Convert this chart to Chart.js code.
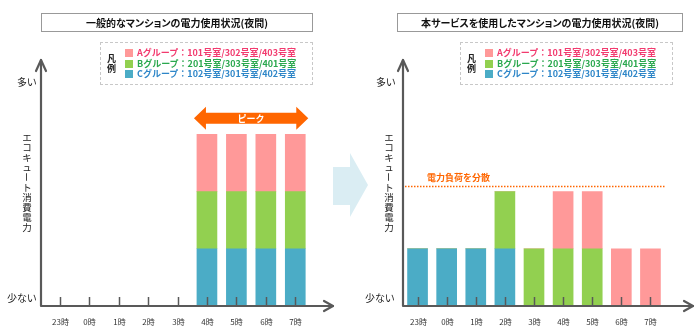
<!DOCTYPE html>
<html lang="ja">
<head>
    <meta charset="UTF-8">
    <title>エコキュート消費電力</title>
    <script src="https://cdn.jsdelivr.net/npm/chart.js"></script>
    <style>
        body { margin: 0; background: #fff; font-family: "Noto Sans CJK JP", sans-serif; }
        #wrap { position: relative; width: 700px; height: 328px; overflow: hidden; }
        canvas { position: absolute; top: 0; }
        .title { position: absolute; top: 13px; height: 19px; box-sizing: border-box; border: 1px solid #999;
                 text-align: center; font-size: 10px; line-height: 17px; font-weight: bold; color: #111;
                 font-feature-settings: "palt"; }
        .legend { position: absolute; top: 42px; width: 213px; height: 43px; box-sizing: border-box;
                  border: 1px dashed #c8c8c8; font-size: 9px; font-weight: bold; }
        .legend .hanrei { position: absolute; left: 6px; top: 11px; line-height: 10px; color: #222; }
        .legend .rows { position: absolute; left: 24px; top: 5px; }
        .legend .row { height: 10.7px; line-height: 10.7px; white-space: nowrap; }
        .legend .sq { display: inline-block; width: 8px; height: 8px; margin-right: 4px; vertical-align: -1px; }
        .lbl { position: absolute; font-size: 10px; color: #222; white-space: nowrap; font-feature-settings: "palt"; }
        .ytitle { position: absolute; top: 132px; width: 10px; font-size: 9.5px; line-height: 10px; color: #222;
                  text-align: center; line-break: anywhere; word-break: break-all; }
        .ytitle .rot { display: inline-block; transform: rotate(90deg); }
    </style>
</head>
<body>

<div id="wrap">
    <canvas id="beforeChart" width="350" height="328" style="left:0"></canvas>
    <canvas id="afterChart" width="350" height="328" style="left:350px"></canvas>

    <div class="title" style="left:41px;width:272px">一般的なマンションの電力使用状況(夜間)</div>
    <div class="title" style="left:397px;width:286px">本サービスを使用したマンションの電力使用状況(夜間)</div>

    <div class="legend" style="left:100px">
        <div class="hanrei">凡<br>例</div>
        <div class="rows">
            <div class="row" style="color:#f23a6e"><span class="sq" style="background:#ff9999"></span>Aグループ：101号室/302号室/403号室</div>
            <div class="row" style="color:#2aa84e"><span class="sq" style="background:#92d050"></span>Bグループ：201号室/303号室/401号室</div>
            <div class="row" style="color:#2e86c8"><span class="sq" style="background:#4bacc6"></span>Cグループ：102号室/301号室/402号室</div>
        </div>
    </div>
    <div class="legend" style="left:460px">
        <div class="hanrei">凡<br>例</div>
        <div class="rows">
            <div class="row" style="color:#f23a6e"><span class="sq" style="background:#ff9999"></span>Aグループ：101号室/302号室/403号室</div>
            <div class="row" style="color:#2aa84e"><span class="sq" style="background:#92d050"></span>Bグループ：201号室/303号室/401号室</div>
            <div class="row" style="color:#2e86c8"><span class="sq" style="background:#4bacc6"></span>Cグループ：102号室/301号室/402号室</div>
        </div>
    </div>

    <div class="lbl" style="left:17px;top:74px">多い</div>
    <div class="lbl" style="left:7px;top:290px">少ない</div>
    <div class="ytitle" style="left:22px">エコキュ<span class="rot">ー</span>ト消費電力</div>

    <div class="lbl" style="left:376px;top:74px">多い</div>
    <div class="lbl" style="left:365px;top:290px">少ない</div>
    <div class="ytitle" style="left:384px">エコキュ<span class="rot">ー</span>ト消費電力</div>

    <svg width="700" height="328" style="position:absolute;left:0;top:0;pointer-events:none">
        <polygon points="333,167 350,167 350,153 368,185 350,217 350,205 333,205" fill="#daedf3"/>
    </svg>
</div>

<script>
    // hours of the night on the x axis
    const hours = ['23時', '0時', '1時', '2時', '3時', '4時', '5時', '6時', '7時'];

    // usual apartment: everyone heats water at the same time
    const beforeA = [0, 0, 0, 0, 0, 1, 1, 1, 1];
    const beforeB = [0, 0, 0, 0, 0, 1, 1, 1, 1];
    const beforeC = [0, 0, 0, 0, 0, 1, 1, 1, 1];

    // with the service: groups shifted across the night
    const afterA = [0, 0, 0, 0, 0, 1, 1, 1, 1];
    const afterB = [0, 0, 0, 1, 1, 1, 1, 0, 0];
    const afterC = [1, 1, 1, 1, 0, 0, 0, 0, 0];

    const peakFrom = '4時';
    const peakTo = '7時';
    const loadLevel = 2.1;

    const COLOR_A = '#ff9999';
    const COLOR_B = '#92d050';
    const COLOR_C = '#4bacc6';
    const AXIS = '#595959';
    const FONT = '"Noto Sans CJK JP", sans-serif';

    function arrowHead(ctx, x, y, dir) {
        ctx.beginPath();
        if (dir === 'up') {
            ctx.moveTo(x - 5, y + 11); ctx.lineTo(x, y); ctx.lineTo(x + 5, y + 11);
        } else {
            ctx.moveTo(x - 9, y - 5); ctx.lineTo(x, y); ctx.lineTo(x - 9, y + 5);
        }
        ctx.stroke();
    }

    const decor = {
        id: 'decor',
        afterDatasetsDraw(chart, args, opts) {
            const ctx = chart.ctx;
            const area = chart.chartArea;
            const x = chart.scales.x;
            const y = chart.scales.y;
            const ax = area.left - opts.gap;
            const ay = y.getPixelForValue(0);

            ctx.save();
            // tick marks and labels
            ctx.strokeStyle = AXIS;
            ctx.lineWidth = 1.5;
            ctx.fillStyle = '#333';
            ctx.font = '8px ' + FONT;
            ctx.textAlign = 'center';
            ctx.textBaseline = 'middle';
            hours.forEach((h, i) => {
                const px = Math.round(x.getPixelForValue(i)) + 0.5;
                ctx.beginPath();
                ctx.moveTo(px, ay - 9);
                ctx.lineTo(px, ay);
                ctx.stroke();
                ctx.fillText(h, px, ay + 16);
            });

            // axes with open arrow heads
            ctx.lineWidth = 2.2;
            ctx.lineCap = 'round';
            ctx.lineJoin = 'round';
            ctx.beginPath();
            ctx.moveTo(ax, ay);
            ctx.lineTo(ax, area.top);
            ctx.moveTo(ax, ay);
            ctx.lineTo(area.right + opts.tail, ay);
            ctx.stroke();
            arrowHead(ctx, ax, area.top, 'up');
            arrowHead(ctx, area.right + opts.tail, ay, 'right');

            if (opts.peak) {
                const x0 = x.getPixelForValue(hours.indexOf(peakFrom)) - 13;
                const x1 = x.getPixelForValue(hours.indexOf(peakTo)) + 13;
                const cy = y.getPixelForValue(3) - 16;
                ctx.fillStyle = '#ff6600';
                ctx.beginPath();
                ctx.moveTo(x0, cy);
                ctx.lineTo(x0 + 12, cy - 11.5);
                ctx.lineTo(x0 + 12, cy - 5.5);
                ctx.lineTo(x1 - 12, cy - 5.5);
                ctx.lineTo(x1 - 12, cy - 11.5);
                ctx.lineTo(x1, cy);
                ctx.lineTo(x1 - 12, cy + 11.5);
                ctx.lineTo(x1 - 12, cy + 5.5);
                ctx.lineTo(x0 + 12, cy + 5.5);
                ctx.lineTo(x0 + 12, cy + 11.5);
                ctx.closePath();
                ctx.fill();
                ctx.fillStyle = '#fff';
                ctx.font = 'bold 9px ' + FONT;
                ctx.fillText('ピーク', (x0 + x1) / 2, cy);
            }

            if (opts.load) {
                const ly = Math.round(y.getPixelForValue(loadLevel)) + 0.5;
                ctx.strokeStyle = '#ff6600';
                ctx.lineWidth = 1.3;
                ctx.lineCap = 'butt';
                ctx.setLineDash([1.5, 1.5]);
                ctx.beginPath();
                ctx.moveTo(area.left + 2, ly);
                ctx.lineTo(area.right, ly);
                ctx.stroke();
                ctx.setLineDash([]);
                ctx.fillStyle = '#ff6600';
                ctx.font = 'bold 9px ' + FONT;
                ctx.textAlign = 'left';
                ctx.fillText('電力負荷を分散', area.left + 24, ly - 9);
            }
            ctx.restore();
        }
    };

    function makeChart(id, a, b, c, padding, decorOpts) {
        return new Chart(document.getElementById(id), {
            type: 'bar',
            data: {
                labels: hours,
                datasets: [
                    {label: 'C', data: c, backgroundColor: COLOR_C},
                    {label: 'B', data: b, backgroundColor: COLOR_B},
                    {label: 'A', data: a, backgroundColor: COLOR_A},
                ],
            },
            options: {
                responsive: false,
                animation: false,
                layout: {padding: padding},
                datasets: {bar: {barThickness: 20, borderWidth: 0}},
                scales: {
                    x: {stacked: true, display: false},
                    y: {stacked: true, display: false, min: 0, max: 4.3},
                },
                plugins: {
                    legend: {display: false},
                    tooltip: {enabled: false},
                    decor: decorOpts,
                },
            },
            plugins: [decor],
        });
    }

    makeChart('beforeChart', beforeA, beforeB, beforeC,
        {left: 45, right: 40, top: 60, bottom: 22}, {gap: 4, tail: 23, peak: true});
    makeChart('afterChart', afterA, afterB, afterC,
        {left: 53, right: 35, top: 60, bottom: 22}, {gap: 0, tail: 28, load: true});
</script>

</body>
</html>
